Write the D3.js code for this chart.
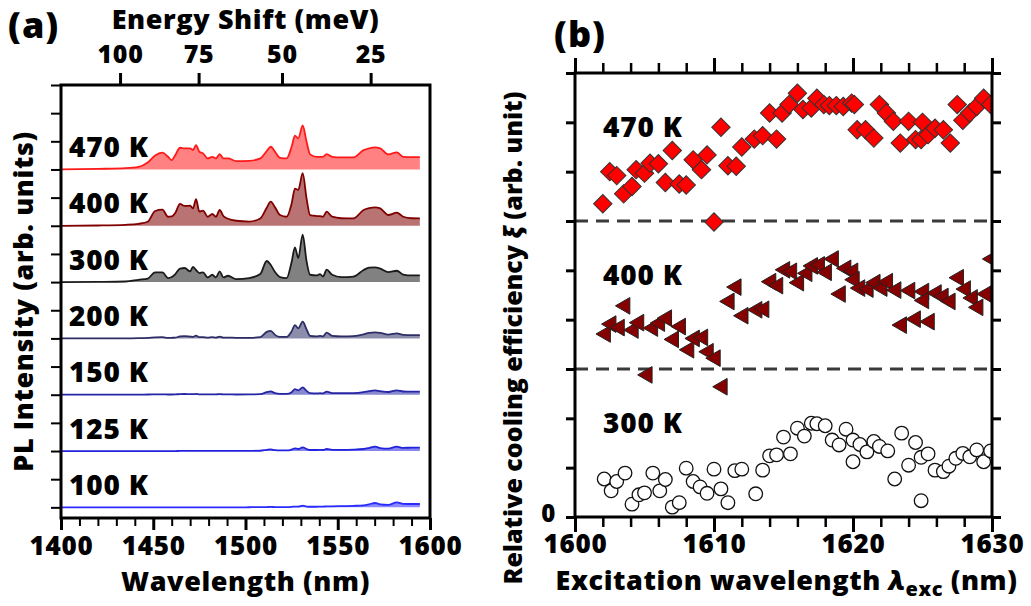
<!DOCTYPE html>
<html>
<head>
<meta charset="utf-8">
<script src="https://cdn.jsdelivr.net/npm/d3@7"></script>
<style>
  body { margin: 0; background: #fff; }
  svg text { font-family: "Open Sans", sans-serif; font-weight: 800; fill: #000; }
</style>
</head>
<body>
<svg id="chart" width="1031" height="606"></svg>
<script>
// ---------- Panel (a): stacked PL spectra ----------
const wavelengths = [1400,1420,1435,1442,1447,1451,1455,1458,1460,1462,1464.5,1467,1470,1471.5,1473.2,1475,1477,1479.5,1482,1484,1486,1488,1490.5,1495,1502,1508,1511.5,1513.7,1516,1518.7,1522.3,1525,1526.8,1528.6,1531,1533.1,1535,1538.6,1540.4,1542,1544,1547,1552,1558.5,1564,1567,1570.2,1573,1577.4,1582,1585.5,1590,1594.5];
const pl470 = [0,0.6,1.3,2.6,7,14,16.7,12.6,9.3,14.5,21.6,21,21,19.3,24.3,17.6,16,11,12.6,11,15.3,11,11,8.3,8.6,11,18.3,22.6,17.6,11.6,11,22.6,33.6,31,43.7,27.6,15,12.6,12.6,12.6,15.3,12.6,12,12,19.3,21,21.9,21,15,17,12.6,12.3,12.3];
const pl400 = [0,0.3,1,2,4,14.7,16,9,9.3,13,21.7,19.7,20,17.3,26.4,14,15,9,11.7,9,15.7,9.7,7,5,4.2,7.3,18,24,18.3,10.7,9,22,37,35.7,52.3,27,10.7,9.7,9.5,9,14,9,7.5,7.3,15.7,17.5,18.3,17.3,10.7,13,9,7.5,7.3];
const pl300 = [0,0.2,0.6,2.3,3.5,9.6,9.6,4,5,8,13.5,14,10.6,15,12,9,9.6,4.6,7.3,4.6,10.6,4.6,6.3,3,4,8,21,17,10,5,4,20,34.6,24,47.3,20.7,7.3,6.6,8,5.6,12.3,7.3,5,5.5,12,14.3,14.6,13.5,10,11.3,7.5,6.6,6.6];
const pl200 = [0,0,0,0.2,0.5,1,1.2,0.5,0.6,0.8,2,2.3,1.8,1.5,2.8,1.2,1.2,0.8,1.2,0.8,1.8,0.8,0.8,0.6,0.6,1.2,6.5,7.5,3.5,1.5,1.5,7,13.3,10,16.7,9,2.5,2,2.5,2,5.7,2.5,2,2.3,4,5.5,6,5.5,3.8,5,3.5,3.3,3.3];
const pl150 = [0,0,0,0,0.2,0.3,0.4,0.2,0.2,0.3,0.6,0.7,0.5,0.5,0.8,0.4,0.4,0.3,0.4,0.3,0.6,0.3,0.3,0.2,0.3,0.5,2.5,3.3,1.5,0.8,0.8,2.5,5.5,4.3,7.3,3.8,1.5,1.3,1.5,1.3,3,1.5,1.5,1.6,2.5,3.5,4.3,3.5,2.7,4.3,3.2,3,3];
const pl125 = [0,0,0,0,0,0,0,0,0,0,0.1,0.1,0.1,0.1,0.1,0.1,0.1,0.1,0.1,0.1,0.1,0.1,0.1,0.1,0.2,0.3,1.2,1.7,0.8,0.6,0.6,1.5,2.7,2,3.7,2,1,1,1.2,1,2,1.2,1.2,1.4,2,3,4.3,3,2.3,4.3,3.2,3.3,3.3];
const pl100 = [0,0,0,0,0,0,0,0,0,0,0,0,0,0,0,0,0,0,0,0,0,0,0,0,0.1,0.2,0.3,0.4,0.3,0.3,0.3,0.5,0.8,0.7,1.7,0.8,0.6,0.6,0.7,0.7,1,1,1.2,1.5,2,3,4.3,3,2.5,5,3.5,3.3,3.3];

const spectraLabels = ["470 K","400 K","300 K","200 K","150 K","125 K","100 K"];
const spectraColors = ["#ff1a1a","#800000","#1a1a1a","#2e2e66","#2626a6","#2323dd","#2b2bff"];
const spectra = [pl470, pl400, pl300, pl200, pl150, pl125, pl100];
const stackStep = 56;            // vertical offset between neighbouring spectra
const laserWavelength = 1619;    // nm, reference for the energy-shift axis
const energyTicks = [100, 75, 50, 25];
const wavelengthTicks = [1400, 1450, 1500, 1550, 1600];

// ---------- Panel (b): cooling efficiency vs excitation wavelength ----------
const excTicks = [1600, 1610, 1620, 1630];
const cool470 = [[1602.0,0.35],[1602.5,1.00],[1603.0,0.92],[1603.5,0.55],[1604.1,0.70],[1604.4,1.04],[1605.0,0.97],[1605.4,1.17],[1606.0,1.16],[1606.5,0.78],[1607.0,1.43],[1607.5,0.75],[1608.0,0.73],[1608.5,1.24],[1609.1,1.04],[1609.5,1.34],[1610.0,-0.02],[1610.5,1.90],[1611.0,1.12],[1611.6,1.11],[1612.0,1.50],[1612.9,1.66],[1613.5,1.73],[1614.0,2.19],[1614.5,1.66],[1614.9,2.19],[1615.4,2.36],[1616.0,2.59],[1616.4,2.26],[1617.0,2.29],[1617.4,2.49],[1617.9,2.36],[1618.3,2.34],[1618.8,2.34],[1619.3,2.32],[1619.9,2.39],[1620.1,2.36],[1620.3,1.85],[1620.9,1.85],[1621.5,1.68],[1621.9,2.36],[1622.4,2.19],[1622.9,2.02],[1623.4,1.58],[1624.0,2.02],[1624.5,1.65],[1624.9,1.65],[1625.0,2.00],[1625.4,1.75],[1625.9,1.88],[1626.5,1.85],[1627.0,1.58],[1627.5,2.36],[1627.9,2.04],[1628.4,2.19],[1628.9,2.32],[1629.4,2.49],[1629.9,2.36]];
const cool400 = [[1602.2,0.71],[1602.6,0.91],[1603.2,0.84],[1603.6,1.28],[1604.2,0.79],[1604.6,0.94],[1605.2,-0.12],[1605.6,0.83],[1606.1,0.93],[1606.6,1.03],[1607.1,0.60],[1607.6,0.86],[1608.2,0.39],[1608.6,0.62],[1609.2,0.64],[1609.6,0.35],[1610.1,0.22],[1610.6,-0.36],[1611.1,1.37],[1611.6,1.66],[1612.1,1.08],[1613.1,1.20],[1613.6,1.21],[1614.1,1.77],[1614.6,1.69],[1615.1,2.01],[1615.6,1.98],[1616.1,1.75],[1616.7,1.94],[1617.1,2.09],[1617.6,2.11],[1618.1,1.96],[1618.6,2.23],[1619.1,1.52],[1619.5,2.04],[1620.0,1.98],[1620.1,1.81],[1620.5,1.64],[1621.1,1.62],[1621.6,1.75],[1622.1,1.64],[1622.5,1.77],[1623.1,1.60],[1623.5,0.89],[1624.1,1.59],[1624.5,1.01],[1625.1,1.57],[1625.1,1.39],[1625.5,0.96],[1626.0,1.54],[1626.5,1.47],[1627.0,1.37],[1627.6,1.85],[1628.1,1.62],[1628.6,1.44],[1629.0,1.25],[1629.6,1.52],[1630.0,2.23]];
const cool300 = [[1602.1,0.77],[1602.6,0.53],[1603.0,0.72],[1603.6,0.89],[1604.1,0.26],[1604.6,0.45],[1605.0,0.49],[1605.6,0.89],[1606.1,0.53],[1606.5,0.76],[1607.0,0.20],[1607.5,0.29],[1608.0,0.99],[1608.5,0.72],[1609.0,0.61],[1609.5,0.48],[1610.0,0.97],[1610.5,0.57],[1611.0,0.29],[1611.5,0.94],[1612.0,0.97],[1613.0,0.47],[1613.5,0.95],[1614.0,1.24],[1614.5,1.26],[1615.0,1.62],[1615.5,1.28],[1616.0,1.80],[1616.5,1.64],[1617.0,1.90],[1617.4,1.89],[1618.0,1.85],[1618.5,1.56],[1619.0,1.46],[1619.5,1.78],[1620.0,1.56],[1620.0,1.12],[1620.5,1.47],[1621.0,1.32],[1621.5,1.53],[1621.9,1.43],[1622.5,1.34],[1623.0,0.77],[1623.5,1.70],[1624.0,1.05],[1624.5,1.51],[1624.9,0.33],[1624.9,1.21],[1625.4,1.28],[1625.9,0.95],[1626.5,0.92],[1626.9,1.03],[1627.4,1.19],[1627.9,1.29],[1628.4,1.22],[1628.9,1.36],[1629.4,1.12],[1629.9,1.34]];
const bandLabels = ["470 K", "400 K", "300 K"];
const bandOffsets = [6, 3, 0];

// ---------- layout ----------
const svg = d3.select("#chart");
const A = { left: 61, right: 430, top: 85, bottom: 518 };
const B = { left: 575, right: 992, top: 73, bottom: 517 };

function styleAxis(g, width, size = 26) {
  g.select(".domain").remove();
  g.selectAll(".tick line").attr("stroke", "#000").attr("stroke-width", width);
  g.selectAll(".tick text").attr("font-size", size).attr("letter-spacing", 0.8)
    .attr("font-family", "Open Sans, sans-serif").attr("font-weight", 800);
}

// ================= Panel (a) =================
const xA = d3.scaleLinear().domain([1400, 1600]).range([A.left, A.right]);
const yA = d3.scaleLinear().domain([-10.6, 420]).range([A.bottom, A.top]);

const gA = svg.append("g");

// spectra, bottom to top
spectra.map((vals, i) => ({ vals, i })).reverse().forEach(({ vals, i }) => {
  const offset = (spectra.length - 1 - i) * stackStep;
  const pts = wavelengths.map((w, k) => [w, vals[k]]);
  const area = d3.area().x(d => xA(d[0])).y0(yA(offset)).y1(d => yA(offset + d[1])).curve(d3.curveMonotoneX);
  const line = d3.line().x(d => xA(d[0])).y(d => yA(offset + d[1])).curve(d3.curveMonotoneX);
  gA.append("path").attr("d", area(pts)).attr("fill", spectraColors[i]).attr("fill-opacity", 0.55);
  gA.append("path").attr("d", line(pts)).attr("fill", "none").attr("stroke", spectraColors[i]).attr("stroke-width", 1.8);
  gA.append("text").attr("x", 69).attr("y", yA(offset) - 12.5)
    .attr("font-size", 28).attr("letter-spacing", 0.8).text(spectraLabels[i]);
});

// bottom wavelength axis
gA.append("g").attr("transform", `translate(0,${A.bottom})`)
  .call(d3.axisBottom(xA).tickValues(d3.range(1400, 1601, 10).filter(v => v % 50 !== 0)).tickSize(8).tickFormat(""))
  .call(g => styleAxis(g, 2));
gA.append("g").attr("transform", `translate(0,${A.bottom})`)
  .call(d3.axisBottom(xA).tickValues(wavelengthTicks).tickSize(12).tickPadding(7).tickFormat(d3.format("d")))
  .call(g => styleAxis(g, 3));

// top energy-shift axis
const hc = 1239.84;
const eLaser = hc / laserWavelength;
const shiftToWl = s => hc / (eLaser + s / 1000);
gA.append("g").attr("transform", `translate(0,${A.top})`)
  .call(d3.axisTop(xA).tickValues(energyTicks.map(shiftToWl)).tickSize(12).tickPadding(10)
    .tickFormat((d, k) => energyTicks[k]))
  .call(g => styleAxis(g, 3, 25));

// left intensity ticks (unlabelled)
gA.append("g").attr("transform", `translate(${A.left},0)`)
  .call(d3.axisLeft(yA).tickValues(d3.range(0, 421, stackStep / 2)).tickSize(10).tickFormat(""))
  .call(g => styleAxis(g, 2));

gA.append("rect").attr("x", A.left).attr("y", A.top)
  .attr("width", A.right - A.left).attr("height", A.bottom - A.top)
  .attr("fill", "none").attr("stroke", "#000").attr("stroke-width", 3);

gA.append("text").attr("x", (A.left + A.right) / 2).attr("y", 29).attr("text-anchor", "middle")
  .attr("font-size", 27).attr("letter-spacing", 0.6).text("Energy Shift (meV)");
gA.append("text").attr("x", (A.left + A.right) / 2).attr("y", 591).attr("text-anchor", "middle")
  .attr("font-size", 27).attr("letter-spacing", 0.6).text("Wavelength (nm)");
gA.append("text").attr("transform", `translate(33,${(A.top + A.bottom) / 2}) rotate(-90)`)
  .attr("text-anchor", "middle").attr("font-size", 27).attr("letter-spacing", 0.6)
  .text("PL Intensity (arb. units)");
gA.append("text").attr("x", 8).attr("y", 38).attr("font-size", 36).attr("letter-spacing", 1).text("(a)");

// ================= Panel (b) =================
const xB = d3.scaleLinear().domain([1600, 1630]).range([B.left, B.right]);
const yB = d3.scaleLinear().domain([0, 9]).range([B.bottom, B.top]);
const gB = svg.append("g");

svg.append("defs").append("clipPath").attr("id", "clipB")
  .append("rect").attr("x", B.left).attr("y", B.top)
  .attr("width", B.right - B.left).attr("height", B.bottom - B.top);

// band separators
gB.selectAll("line.sep").data([3, 6]).join("line")
  .attr("x1", B.left).attr("x2", B.right).attr("y1", d => yB(d)).attr("y2", d => yB(d))
  .attr("stroke", "#3a3a3a").attr("stroke-width", 3).attr("stroke-dasharray", "13,8");

const plot = gB.append("g").attr("clip-path", "url(#clipB)");

plot.selectAll("circle.c300").data(cool300).join("circle")
  .attr("cx", d => xB(d[0])).attr("cy", d => yB(bandOffsets[2] + d[1])).attr("r", 6.8)
  .attr("fill", "#fff").attr("stroke", "#111").attr("stroke-width", 1.3);

const tri = d3.symbol().type(d3.symbolTriangle).size(120);
plot.selectAll("path.t400").data(cool400).join("path")
  .attr("d", tri)
  .attr("transform", d => `translate(${xB(d[0])},${yB(bandOffsets[1] + d[1])}) rotate(-90)`)
  .attr("fill", "#850000").attr("stroke", "#222").attr("stroke-width", 1);

const dia = d3.symbol().type(d3.symbolSquare).size(170);
plot.selectAll("path.d470").data(cool470).join("path")
  .attr("d", dia)
  .attr("transform", d => `translate(${xB(d[0])},${yB(bandOffsets[0] + d[1])}) rotate(45)`)
  .attr("fill", "#ff0000").attr("stroke", "#333").attr("stroke-width", 1);

// axes
const minorB = d3.range(1600, 1631, 2).filter(v => v % 10 !== 0);
gB.append("g").attr("transform", `translate(0,${B.bottom})`)
  .call(d3.axisBottom(xB).tickValues(minorB).tickSize(10).tickFormat("")).call(g => styleAxis(g, 2.5));
gB.append("g").attr("transform", `translate(0,${B.bottom})`)
  .call(d3.axisBottom(xB).tickValues(excTicks).tickSize(15).tickPadding(3).tickFormat(d3.format("d")))
  .call(g => styleAxis(g, 3));
gB.append("g").attr("transform", `translate(0,${B.top})`)
  .call(d3.axisTop(xB).tickValues(minorB).tickSize(10).tickFormat("")).call(g => styleAxis(g, 2.5));
gB.append("g").attr("transform", `translate(0,${B.top})`)
  .call(d3.axisTop(xB).tickValues(excTicks).tickSize(15).tickFormat("")).call(g => styleAxis(g, 3));
gB.append("g").attr("transform", `translate(${B.left},0)`)
  .call(d3.axisLeft(yB).tickValues(d3.range(0, 10)).tickSize(9).tickPadding(10)
    .tickFormat(d => d === 0 ? "0" : "")).call(g => styleAxis(g, 3, 24))
  .call(g => g.selectAll(".tick text").attr("dy", "0.2em"));
gB.append("g").attr("transform", `translate(${B.right},0)`)
  .call(d3.axisRight(yB).tickValues(d3.range(0, 10)).tickSize(9).tickFormat("")).call(g => styleAxis(g, 3));

gB.append("rect").attr("x", B.left).attr("y", B.top)
  .attr("width", B.right - B.left).attr("height", B.bottom - B.top)
  .attr("fill", "none").attr("stroke", "#000").attr("stroke-width", 3);

bandLabels.forEach((lab, k) => {
  gB.append("text").attr("x", 603).attr("y", yB(bandOffsets[k] + 3) + 64)
    .attr("font-size", 28).attr("letter-spacing", 0.8).text(lab);
});

const xt = gB.append("text").attr("x", (B.left + B.right) / 2 + 3).attr("y", 590)
  .attr("text-anchor", "middle").attr("font-size", 27).attr("letter-spacing", 0.6);
xt.append("tspan").text("Excitation wavelength ");
xt.append("tspan").attr("font-style", "italic").text("λ");
xt.append("tspan").attr("font-size", 20).attr("dy", 6).text("exc");
xt.append("tspan").attr("dy", -6).text(" (nm)");

const yt = gB.append("text").attr("transform", `translate(522,338) rotate(-90)`)
  .attr("text-anchor", "middle").attr("font-size", 25);
yt.append("tspan").text("Relative cooling efficiency ");
yt.append("tspan").attr("font-style", "italic").text("ξ");
yt.append("tspan").text(" (arb. unit)");

gB.append("text").attr("x", 554).attr("y", 47).attr("font-size", 36).attr("letter-spacing", 1).text("(b)");
</script>
</body>
</html>
